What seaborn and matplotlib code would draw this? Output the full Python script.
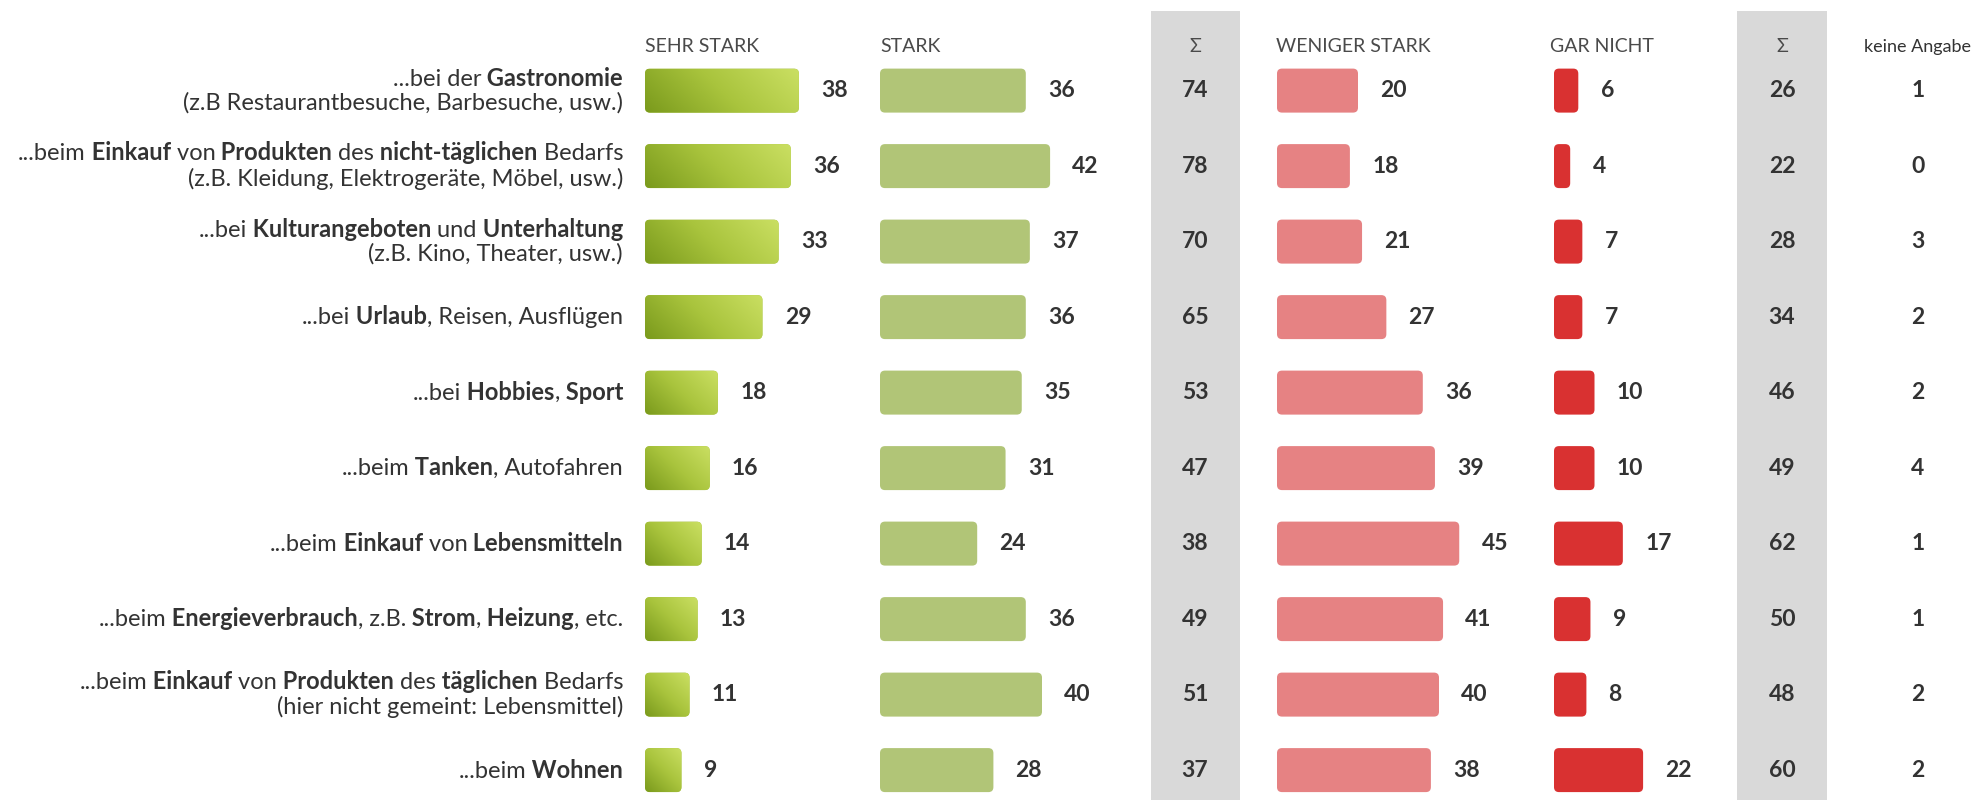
import re
import numpy as np
import pandas as pd
import matplotlib
matplotlib.use("Agg")
import matplotlib.pyplot as plt
import seaborn as sns
from matplotlib.patches import FancyBboxPatch
from matplotlib.colors import LinearSegmentedColormap

# ---------------- data ----------------
label_lines = [
    ["...bei der **Gastronomie**", "(z.B Restaurantbesuche, Barbesuche, usw.)"],
    ["...beim **Einkauf** von **Produkten** des **nicht-täglichen** Bedarfs", "(z.B. Kleidung, Elektrogeräte, Möbel, usw.)"],
    ["...bei **Kulturangeboten** und **Unterhaltung**", "(z.B. Kino, Theater, usw.)"],
    ["...bei **Urlaub**, Reisen, Ausflügen"],
    ["...bei **Hobbies**, **Sport**"],
    ["...beim **Tanken**, Autofahren"],
    ["...beim **Einkauf** von **Lebensmitteln**"],
    ["...beim **Energieverbrauch**, z.B. **Strom**, **Heizung**, etc."],
    ["...beim **Einkauf** von **Produkten** des **täglichen** Bedarfs", "(hier nicht gemeint: Lebensmittel)"],
    ["...beim **Wohnen**"],
]
categories = [" ".join(l).replace("**", "") for l in label_lines]

sehr_stark = [38, 36, 33, 29, 18, 16, 14, 13, 11, 9]
stark = [36, 42, 37, 36, 35, 31, 24, 36, 40, 28]
sum_stark = [74, 78, 70, 65, 53, 47, 38, 49, 51, 37]
weniger_stark = [20, 18, 21, 27, 36, 39, 45, 41, 40, 38]
gar_nicht = [6, 4, 7, 7, 10, 10, 17, 9, 8, 22]
sum_nicht = [26, 22, 28, 34, 46, 49, 62, 50, 48, 60]
keine_angabe = [1, 0, 3, 2, 2, 4, 1, 1, 2, 2]

headers = ["SEHR STARK", "STARK", "Σ", "WENIGER STARK", "GAR NICHT", "Σ", "keine Angabe"]

# ---------------- style ----------------
sns.set_theme(style="white")
plt.rcParams["font.family"] = ["Lato", "DejaVu Sans"]
TXT = "#333333"
HDR = "#4a4a4a"
W, H, DPI = 1974, 800, 100
PX_PER_UNIT = 4.05
ROW0, ROW_STEP = 90.6, 75.5
BAR_PX = 44
Y_TOP = -ROW0 / ROW_STEP
Y_BOT = (H - ROW0) / ROW_STEP
BAR_H = BAR_PX / ROW_STEP
FS_VAL = 16.5

fig = plt.figure(figsize=(W / DPI, H / DPI), dpi=DPI)
fig.patch.set_facecolor("white")
renderer = fig.canvas.get_renderer()


def segments(markup):
    parts = markup.split("**")
    segs = [[t, k % 2 == 1] for k, t in enumerate(parts) if t]
    for k in range(len(segs) - 1):
        m = re.search(r"\s+$", segs[k][0])
        if m:
            segs[k][0] = segs[k][0][:m.start()]
            segs[k + 1][0] = m.group(0) + segs[k + 1][0]
    return [s for s in segs if s[0]]


def rich_width(markup, fs):
    total = 0.0
    for t, b in segments(markup):
        tt = fig.text(0, 0, t, fontsize=fs, fontweight="bold" if b else "normal")
        total += tt.get_window_extent(renderer).width
        tt.remove()
    return total


# label font size: fit the widest plain sub-line to its width in the layout
FS = 16 * 441 / rich_width(label_lines[1][1], 16)
FS = min(FS, 17)

main = fig.add_axes([0, 0, 1, 1])
main.set_xlim(0, W)
main.set_ylim(Y_BOT, Y_TOP)
main.axis("off")

# grey sum bands
band_top = (H - 11) / H
for x0, x1 in [(1151, 1240), (1737, 1827)]:
    main.axvspan(x0, x1, ymin=0, ymax=band_top, color="#d9d9d9", lw=0, zorder=0)

# headers
HDR_Y = (47 - ROW0) / ROW_STEP
hdr_pos = [(645, "left"), (880, "left"), (1195, "center"), (1276, "left"),
           (1550, "left"), (1782, "center"), (1918, "center")]
for txt, (hx, ha) in zip(headers, hdr_pos):
    if txt == "keine Angabe":
        main.text(hx, HDR_Y, txt, ha=ha, va="center", fontsize=13, color=TXT)
    else:
        main.text(hx, HDR_Y, txt, ha=ha, va="center", fontsize=14,
                  fontweight="normal", color=HDR)


def draw_rich(ax, x, y, markup):
    segs = segments(markup)
    t, b = segs[-1]
    prev = ax.text(x, y, t, ha="right", va="center", fontsize=FS, color=TXT,
                   fontweight="bold" if b else "normal")
    for t, b in reversed(segs[:-1]):
        prev = ax.annotate(t, xy=(0, 0), xycoords=prev, ha="right", va="bottom",
                           fontsize=FS, color=TXT,
                           fontweight="bold" if b else "normal")


LABEL_X = 623
LINE_OFF_UP = 12.5 / ROW_STEP
LINE_OFF_DN = 12.5 / ROW_STEP
for i, lines in enumerate(label_lines):
    if len(lines) == 1:
        draw_rich(main, LABEL_X, i, lines[0])
    else:
        draw_rich(main, LABEL_X, i - LINE_OFF_UP, lines[0])
        draw_rich(main, LABEL_X, i + LINE_OFF_DN, lines[1])

# sum + keine Angabe columns
for i in range(len(categories)):
    main.text(1195, i, str(sum_stark[i]), ha="center", va="center", fontsize=FS_VAL,
              fontweight="bold", color=TXT)
    main.text(1782, i, str(sum_nicht[i]), ha="center", va="center", fontsize=FS_VAL,
              fontweight="bold", color=TXT)
    main.text(1918, i, str(keine_angabe[i]), ha="center", va="center", fontsize=FS_VAL,
              fontweight="bold", color=TXT)

# bar columns
grad_cmap = LinearSegmentedColormap.from_list("g", ["#7a9a1c", "#a9c43d", "#cadf62"])
series = [
    (sehr_stark, 645, "#a3bd3c", True),
    (stark, 880, "#b1c577", False),
    (weniger_stark, 1277, "#e68283", False),
    (gar_nicht, 1554, "#d93131", False),
]
COL_W = 240
RADIUS_PX = 5
for vals, x0, col, grad in series:
    ax = fig.add_axes([x0 / W, 0, COL_W / W, 1])
    ax.patch.set_alpha(0)
    df = pd.DataFrame({"category": categories, "value": vals})
    sns.barplot(data=df, x="value", y="category", orient="h", ax=ax, color=col,
                saturation=1, width=BAR_H)
    ax.set_xlim(0, COL_W / PX_PER_UNIT)
    ax.set_ylim(Y_BOT, Y_TOP)
    ax.axis("off")
    ax.bar_label(ax.containers[0], labels=[str(v) for v in vals], padding=16,
                 fontsize=FS_VAL, fontweight="bold", color=TXT)
    for p in list(ax.patches):
        bx, by = p.get_xy()
        bw, bh = p.get_width(), p.get_height()
        fb = FancyBboxPatch((bx, by), bw, bh,
                            boxstyle=f"round,pad=0,rounding_size={RADIUS_PX / PX_PER_UNIT}",
                            mutation_aspect=PX_PER_UNIT / ROW_STEP,
                            fc=p.get_facecolor(), ec="none", lw=0)
        p.remove()
        ax.add_patch(fb)
        if grad:
            wpx = bw * PX_PER_UNIT
            u = np.linspace(0, wpx, 200)
            v = np.linspace(0, BAR_PX, 40)
            t = (u[None, :] + v[:, None]) / (wpx + BAR_PX)
            im = ax.imshow(t, cmap=grad_cmap, vmin=0, vmax=1, origin="lower",
                           extent=(bx, bx + bw, by + bh, by), aspect="auto",
                           interpolation="bilinear", zorder=3)
            im.set_clip_path(fb)
    ax.set_xlim(0, COL_W / PX_PER_UNIT)
    ax.set_ylim(Y_BOT, Y_TOP)

fig.savefig("out.png", dpi=DPI, facecolor="white")
